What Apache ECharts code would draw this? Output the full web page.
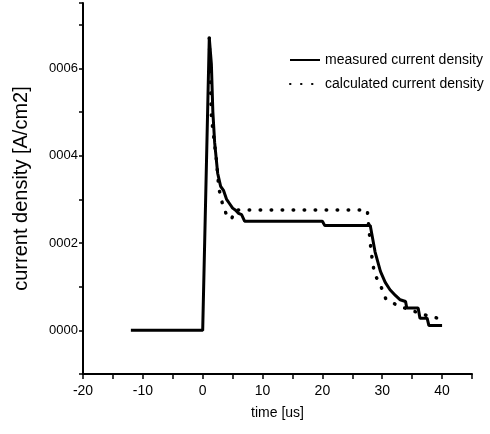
<!DOCTYPE html>
<html>
<head>
<meta charset="utf-8">
<script src="https://cdn.jsdelivr.net/npm/echarts@6/dist/echarts.min.js"></script>
<style>
  html, body { margin: 0; padding: 0; background: #fff; }
  #chart { width: 490px; height: 434px; }
</style>
</head>
<body>
<div id="chart"></div>
<script>
// measured current density (time in us, density in A/cm2)
var measuredTime = [-12, 0, 0.2, 1.1, 1.45, 1.7, 2.0, 2.5, 3.0, 3.5, 4.0, 4.5, 5.0, 5.5, 6.0, 6.5, 7.0, 20.0, 20.4, 28.0, 28.8, 29.7, 30.5, 31.3, 32.2, 33.0, 33.9, 34.1, 36.0, 36.3, 37.5, 37.8, 40.0];
var measuredDensity = [0, 0, 0, 0.00067, 0.00061, 0.0005, 0.00043, 0.00036, 0.00033, 0.00032, 0.0003, 0.00029, 0.00028, 0.000275, 0.000268, 0.000265, 0.00025, 0.00025, 0.00024, 0.00024, 0.00018, 0.000135, 0.00011, 0.000093, 0.00008, 0.00007, 0.000066, 0.000051, 0.000051, 0.000028, 0.000028, 0.000011, 0.000011];

// calculated current density
var calcTime = [1.1, 1.45, 2.3, 2.7, 3.3, 4.1, 4.8, 5.5, 27.5, 28.0, 28.3, 28.7, 29.8, 30.6, 32.4, 35.0, 37.9, 40.0];
var calcDensity = [0.00067, 0.00049, 0.00039, 0.000325, 0.00029, 0.00026, 0.000255, 0.000276, 0.000276, 0.0002, 0.000165, 0.00013, 0.0001, 0.000072, 0.000058, 0.000045, 0.000032, 0.000026];

var seriesNames = ['measured current density', 'calculated current density'];

function pairs(xs, ys) {
    return xs.map(function (x, i) { return [x, ys[i]]; });
}

var chart = echarts.init(document.getElementById('chart'));
var font = 'Arial, "Liberation Sans", sans-serif';

var option = {
    animation: false,
    backgroundColor: '#fff',
    grid: {
        left: 83,
        right: 18,
        top: 3,
        bottom: 60
    },
    legend: {
        left: 284,
        top: 48,
        orient: 'vertical',
        itemWidth: 30,
        itemHeight: 14,
        itemGap: 10,
        itemStyle: { opacity: 0 },
        textStyle: { color: '#000', fontSize: 14, fontFamily: font },
        data: seriesNames
    },
    xAxis: {
        type: 'value',
        min: -20,
        max: 45,
        interval: 5,
        name: 'time [us]',
        nameLocation: 'middle',
        nameGap: 32,
        nameTextStyle: { color: '#000', fontSize: 14, fontFamily: font },
        splitLine: { show: false },
        axisLine: { onZero: false, lineStyle: { color: '#000', width: 2 } },
        axisTick: { inside: false, length: 5, lineStyle: { color: '#000', width: 1.5 } },
        axisLabel: {
            color: '#000',
            fontSize: 14,
            fontFamily: font,
            margin: 10,
            formatter: function (v) {
                return (Math.round(v) % 10 === 0) ? String(v) : '';
            }
        }
    },
    yAxis: {
        type: 'value',
        min: -0.0001,
        max: 0.00075,
        interval: 0.0001,
        name: 'current density [A/cm2]',
        nameLocation: 'middle',
        nameGap: 52,
        nameTextStyle: { color: '#000', fontSize: 20, fontFamily: font },
        splitLine: { show: false },
        axisLine: { onZero: false, lineStyle: { color: '#000', width: 2 } },
        axisTick: { inside: false, length: 4, lineStyle: { color: '#000', width: 1.5 } },
        axisLabel: {
            color: '#000',
            fontSize: 13,
            fontFamily: font,
            margin: 5,
            formatter: function (v) {
                var n = Math.round(v * 10000);
                if (Math.abs(v * 10000 - n) > 1e-6 || n < 0 || n % 2 !== 0) return '';
                return '000' + n;
            }
        }
    },
    series: [{
        name: seriesNames[0],
        type: 'line',
        showSymbol: false,
        symbol: 'none',
        color: '#000',
        lineStyle: { color: '#000', width: 3 },
        data: pairs(measuredTime, measuredDensity)
    }, {
        name: seriesNames[1],
        type: 'line',
        showSymbol: false,
        symbol: 'none',
        color: '#000',
        lineStyle: { color: '#000', width: 3.5, type: [0.5, 10.5], cap: 'round' },
        data: pairs(calcTime, calcDensity)
    }]
};

chart.setOption(option);
</script>
</body>
</html>
